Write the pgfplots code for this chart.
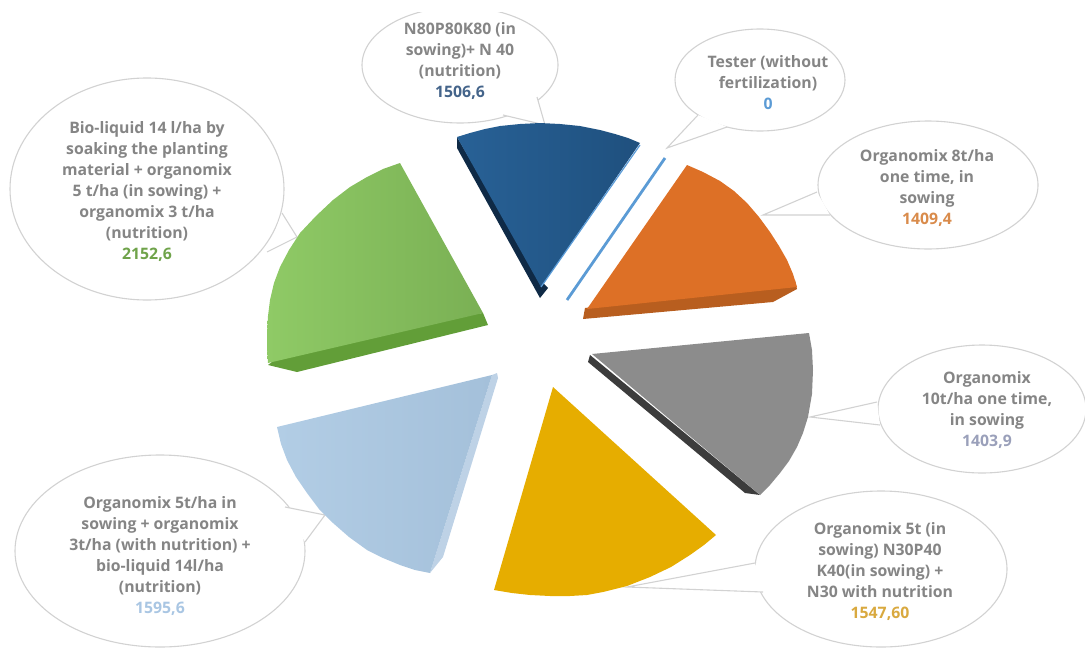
\documentclass[border=0pt]{standalone}
\usepackage{pgfplots}
\pgfplotsset{compat=1.18}
\usepackage{fontspec}
\setmainfont{Open Sans}
\definecolor{lbl}{HTML}{858585}
\definecolor{edge}{HTML}{D2D2D2}
\newcommand{\callout}[8]{%
  % ellipse centre, radii (px); tail: start, tip, end; then the text anchor
  \draw[edge,line width=0.55pt,fill=white] (axis cs:#1,#2) ellipse [x radius=#3*0.5pt,y radius=#4*0.5pt];
  \fill[white] (axis cs:#5) -- (axis cs:#6) -- (axis cs:#7) -- cycle;
  \draw[edge,line width=0.55pt] (axis cs:#5) -- (axis cs:#6) -- (axis cs:#7);
  \node[align=center,text=lbl,font=\fontsize{7.9}{10.5}\selectfont\bfseries,inner sep=0pt] at (axis cs:#8)}
\begin{document}
\begin{tikzpicture}
\path[use as bounding box,clip] (0,0) rectangle (542.5pt,324pt);
\begin{axis}[
  at={(0,0)}, anchor=south west,
  scale only axis, width=542.5pt, height=324pt,
  xmin=0, xmax=1085, ymin=0, ymax=648, y dir=reverse,
  hide axis]

% speech-bubble labels
\callout{460}{65}{98}{58}{537,97}{545,125}{503,115}{460,61}
  {N80P80K80 (in\\sowing)+ N 40\\(nutrition)\\\textcolor[HTML]{44648A}{1506,6}};
\fill[white] (axis cs:340,0) rectangle (axis cs:600,12);
\callout{760}{80}{85}{51}{698,115}{667,148}{727,127}{768,83}
  {Tester (without\\fertilization)\\\textcolor[HTML]{5B9BD5}{0}};
\callout{928}{185}{110}{64}{817,192}{763,215}{830,215}{927,188}
  {Organomix 8t/ha\\one time, in\\sowing\\\textcolor[HTML]{D98B4B}{1409,4}};
\callout{982}{409}{104}{64}{877,402}{810,417}{880,425}{987,410}
  {Organomix\\10t/ha one time,\\in sowing\\\textcolor[HTML]{9AA0BA}{1403,9}};
\callout{881}{569}{126}{78}{755,563}{627,587}{763,592}{880,572}
  {Organomix 5t (in\\sowing)  N30P40\\K40(in sowing) +\\N30 with nutrition\\\textcolor[HTML]{D9A93F}{1547,60}};
\callout{160}{551}{145}{96}{285,507}{325,515}{305,542}{160,556}
  {Organomix 5t/ha in\\sowing + organomix\\3t/ha (with nutrition) +\\bio-liquid 14l/ha\\(nutrition)\\\textcolor[HTML]{A9C6E3}{1595,6}};
\callout{147}{189}{137}{111}{282,213}{297,237}{267,252}{147,192}
  {Bio-liquid 14 l/ha by\\soaking the planting\\material + organomix\\5 t/ha (in sowing) +\\organomix 3 t/ha\\(nutrition)\\\textcolor[HTML]{6FA34A}{2152,6}};

% N80P80K80: side, top face, lit edge
\addplot[draw=none,fill={rgb,255:red,15;green,42;blue,70}] coordinates {(457,137)(457,148)(540,298)(548,288)(540,280)} -- cycle;
\addplot[draw=none,left color={rgb,255:red,40;green,97;blue,150},right color={rgb,255:red,31;green,80;blue,126}] coordinates
  {(457,137)(470,133)(485,129)(500,126)(520,124)(540,123)(560,124)(580,126)(600,130)(615,134)(628,138)(640,143)(541,287)} -- cycle;
\addplot[no marks,line width=0.6pt,color={rgb,255:red,90;green,155;blue,215}] coordinates {(640,145)(541,287)};

% Tester: zero-valued sliver
\addplot[no marks,line width=1.4pt,color={rgb,255:red,91;green,155;blue,213}] coordinates {(567,300)(665,158)};

% Organomix 8 t/ha
\addplot[draw=none,fill={rgb,255:red,184;green,94;blue,31}] coordinates {(585,308)(583,319)(773,302)(797,289)(795,280)} -- cycle;
\addplot[draw=none,fill={rgb,255:red,221;green,112;blue,38}] coordinates
  {(687,165)(703,172)(720,181)(734,191)(747,203)(759,217)(770,232)(779,246)(787,260)(793,274)(797,287)(587,309)} -- cycle;

% Organomix 10 t/ha
\addplot[draw=none,fill={rgb,255:red,60;green,60;blue,60}] coordinates {(590,355)(760,495)(745,493)(588,362)} -- cycle;
\addplot[draw=none,fill={rgb,255:red,140;green,140;blue,140}] coordinates
  {(592,354)(809,333)(812,350)(813,370)(812,394)(808,417)(803,433)(797,447)(789,461)(780,473)(770,485)(760,495)} -- cycle;

% Organomix 5 t + mineral
\addplot[draw=none,fill={rgb,255:red,230;green,173;blue,0}] coordinates
  {(553,387)(716,535)(704,545)(690,555)(671,567)(650,577)(627,586)(603,592)(587,595)(570,596)(550,596)(530,595)(512,593)(494,590)} -- cycle;

% Organomix 5 t/ha + bio-liquid
\addplot[draw=none,fill={rgb,255:red,190;green,210;blue,230}] coordinates {(497,373)(498,378)(443,557)(430,573)(492,375)} -- cycle;
\addplot[draw=none,left color={rgb,255:red,178;green,205;blue,229},right color={rgb,255:red,164;green,192;blue,218}] coordinates
  {(277,427)(281,444)(287,460)(296,477)(307,493)(319,509)(333,523)(349,537)(367,550)(383,558)(400,565)(415,570)(430,573)(492,375)} -- cycle;

% Bio-liquid 14 l/ha
\addplot[draw=none,fill={rgb,255:red,98;green,158;blue,56}] coordinates {(483,313)(488,325)(297,372)(268,365)(300,340)} -- cycle;
\addplot[draw=none,left color={rgb,255:red,143;green,202;blue,102},right color={rgb,255:red,122;green,176;blue,84}] coordinates
  {(400,163)(383,169)(367,177)(350,187)(333,200)(316,216)(300,233)(289,250)(280,267)(274,283)(270,300)(268,316)(267,333)(267,348)(268,363)(483,313)} -- cycle;
\end{axis}
\end{tikzpicture}
\end{document}
